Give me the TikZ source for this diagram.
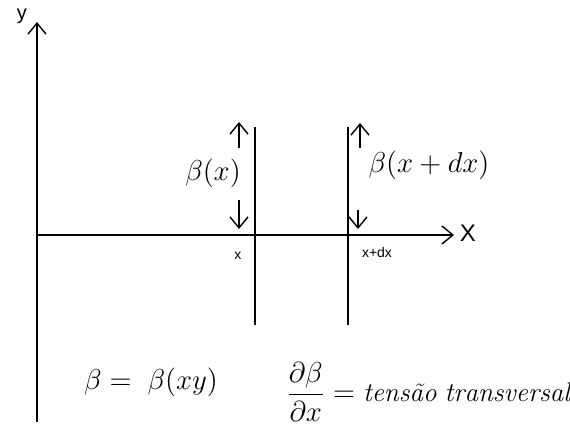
\documentclass[tikz,border=0pt]{standalone}
\usepackage{amsmath,amssymb}
\usepackage{fontspec}
\setsansfont{Liberation Sans}
\usetikzlibrary{positioning,arrows.meta}

\begin{document}
\begin{tikzpicture}[x=0.5pt, y=-0.5pt, font=\fontsize{13.5}{16}\selectfont,
  line width=0.7pt, >={Straight Barb[length=5.5pt,width=9pt]}]
  \useasboundingbox (0,0) rectangle (570,430);
  % axes
  \coordinate (O) at (37,235);
  \coordinate (ybot) at (37,422);
  \coordinate (ytop) at (37,22);
  \coordinate (xend) at (454,235);
  \draw[->] (ybot) -- (ytop);
  \draw[->] (O) -- (xend);
  \node[font=\sffamily] (ylab) at (22,16) {y};
  \node[font=\sffamily\large] (xlab) at (468,233) {X};
  % cuts at x and x+dx
  \foreach \n/\px in {a/255,b/348}{
    \coordinate (\n top) at (\px,127);
    \coordinate (\n bot) at (\px,325);
    \draw (\n top) -- (\n bot);
  }
  % shear on each cut
  \coordinate (a1) at (239,148); \coordinate (a2) at (239,122);
  \coordinate (a3) at (239,200); \coordinate (a4) at (239,229);
  \coordinate (b1) at (360,148); \coordinate (b2) at (360,123);
  \coordinate (b3) at (358,210); \coordinate (b4) at (358,229);
  \draw[->] (a1) -- (a2);
  \draw[->] (a3) -- (a4);
  \draw[->] (b1) -- (b2);
  \draw[->] (b3) -- (b4);
  \node (ba) at (213,173) {$\beta(x)$};
  \node (bb) at (429,165) {$\beta(x+dx)$};
  \node[font=\sffamily\scriptsize] (xa) at (238,256) {x};
  \node[font=\sffamily\scriptsize] (xb) at (377,252) {x+dx};
  % relations
  \node (rel) at (151,382) {$\beta =\; \beta(xy)$};
  \node[anchor=west] (tau) at (279,392)
    {$\dfrac{\partial\beta}{\partial x} = \mathit{tensão}\;\mathit{transversal}$};
\end{tikzpicture}
\end{document}
